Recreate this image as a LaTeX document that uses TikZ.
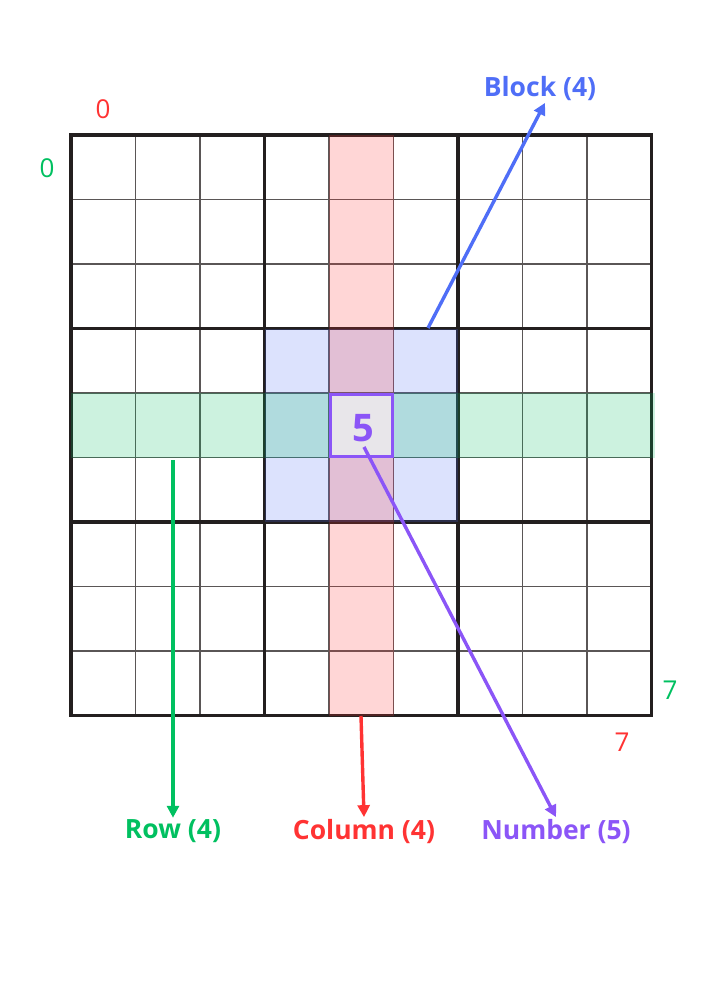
\documentclass[tikz,border=0pt]{standalone}
\usepackage{fontspec}
\setmainfont{Open Sans}
\usetikzlibrary{arrows.meta,positioning}
\definecolor{rowcolor}{HTML}{00C060}
\definecolor{colcolor}{HTML}{FF3333}
\definecolor{blockcolor}{HTML}{4F6EF7}
\definecolor{numcolor}{HTML}{8B55F7}
\definecolor{gridink}{HTML}{231F1F}
\definecolor{thinink}{HTML}{5A5656}
\definecolor{cellgray}{HTML}{E8E6EA}
\tikzset{
  thinline/.style={draw=thinink, line width=1.2pt},
  thickline/.style={draw=gridink, line width=3.2pt, line cap=rect},
  shade box/.style={fill=#1, fill opacity=0.2, draw=none},
  labeltext/.style={font=\bfseries\fontsize{26.5}{30}\selectfont, text=#1, inner sep=2pt},
  indextext/.style={font=\fontsize{26}{30}\selectfont, text=#1, inner sep=0pt},
  pointer/.style={-{Triangle[length=12pt,width=12pt]}, line width=3.4pt, draw=#1}
}
\begin{document}
\begin{tikzpicture}[x=1pt, y=-1pt]
  \useasboundingbox (0,0) rectangle (707,1000);
  % grid
  \foreach \i in {1,2,4,5,7,8} {
    \draw[thinline] ({71+64.5*\i},135) -- ({71+64.5*\i},715.5);
    \draw[thinline] (71,{135+64.5*\i}) -- (651.5,{135+64.5*\i});
  }
  \foreach \i in {3,6} {
    \draw[thickline] ({71+64.5*\i},135) -- ({71+64.5*\i},715.5);
    \draw[thickline] (71,{135+64.5*\i}) -- (651.5,{135+64.5*\i});
  }
  \draw[thickline] (71,135) rectangle (651.5,715.5);
  % highlighted row, column and block
  \fill[shade box=blockcolor] (264.5,328.5) rectangle (458,522);
  \fill[shade box=colcolor] (329,135) rectangle (393.5,715.5);
  \fill[shade box=rowcolor] (71,393) rectangle (655,457.5);
  \node[draw=numcolor, line width=3pt, fill=cellgray, minimum size=61.5pt] (num) at (361.25,425.25) {};
  \node[font=\bfseries\fontsize{38}{40}\selectfont, text=numcolor, inner sep=0pt] (digit) at (363,428) {5};
  % indices
  \node[indextext=colcolor] (colfirst) at (103,109) {0};
  \node[indextext=rowcolor] (rowfirst) at (47,168) {0};
  \node[indextext=rowcolor] (rowlast) at (670,690) {7};
  \node[indextext=colcolor] (collast) at (622,742) {7};
  % labels
  \node[labeltext=blockcolor] (blocklabel) at (540,88.5) {Block (4)};
  \node[labeltext=rowcolor] (rowlabel) at (173,831.5) {Row (4)};
  \node[labeltext=colcolor] (collabel) at (364,831.5) {Column (4)};
  \node[labeltext=numcolor] (numlabel) at (556,831.5) {Number (5)};
  \coordinate (blocktail) at (428,328);
  \coordinate (rowtail) at (173,460);
  \coordinate (coltail) at (361,716);
  \coordinate (numtail) at (364,447);
  \draw[pointer=blockcolor] (blocktail) -- ([xshift=5pt]blocklabel.south);
  \draw[pointer=rowcolor] (rowtail) -- (rowlabel.north);
  \draw[pointer=colcolor] (coltail) -- (collabel.north);
  \draw[pointer=numcolor] (numtail) -- (numlabel.north);
\end{tikzpicture}
\end{document}
